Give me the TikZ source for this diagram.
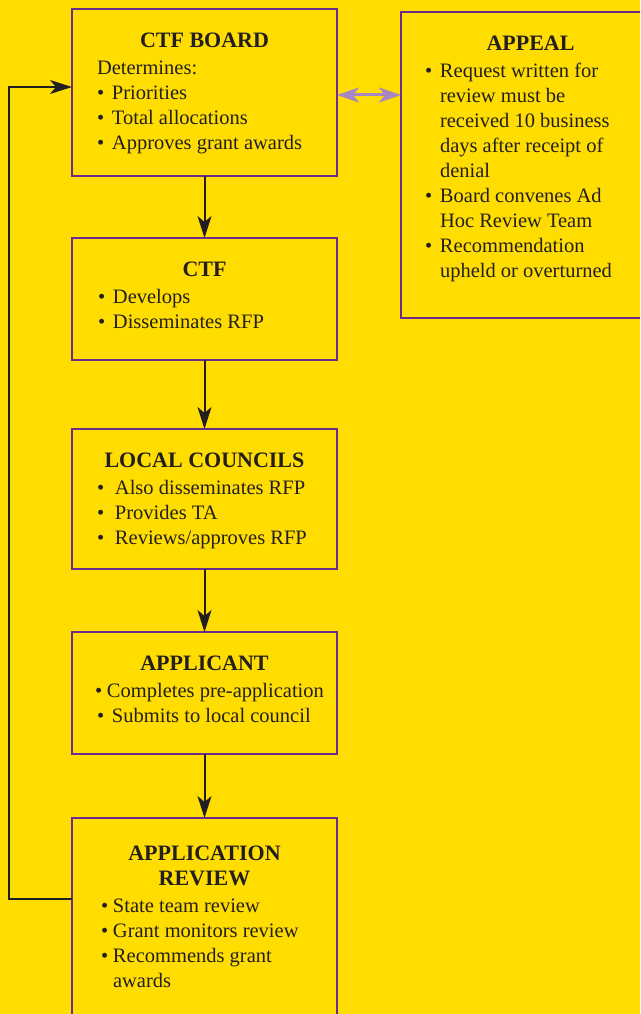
\documentclass[tikz,border=0pt]{standalone}
\usepackage{fontspec}
\setmainfont{Liberation Serif}
\usepackage{tikz}
\usetikzlibrary{arrows.meta,positioning}
\definecolor{ctfyellow}{RGB}{255,221,0}
\definecolor{boxpurple}{RGB}{108,44,140}
\definecolor{appealviolet}{RGB}{168,134,196}
\definecolor{inkdark}{RGB}{35,31,32}
\tikzstyle{stagebox}=[draw=boxpurple,line width=2pt,fill=ctfyellow,inner sep=0pt,outer sep=0pt,text=inkdark]
\tikzstyle{flow}=[draw=inkdark,line width=2pt,-{Stealth[length=22pt,width=14pt,inset=6pt]}]
\tikzstyle{appealflow}=[draw=appealviolet,line width=3pt,{Stealth[length=22pt,width=15pt,inset=6pt]}-{Stealth[length=22pt,width=15pt,inset=6pt]}]
\newcommand{\boxhead}[1]{{\centering\fontsize{22}{25}\selectfont\bfseries #1\par}\vspace{2pt}}
\newcommand{\bitem}[2][15pt]{\makebox[#1][l]{\textbullet}#2\par}
\newcommand{\stage}[5][24pt]{\begin{minipage}[t][#3][t]{#2}\fontsize{20.5}{25}\selectfont\leftskip=#4\relax\parindent=0pt\vspace*{#1}#5\end{minipage}}

\begin{document}
\begin{tikzpicture}[x=1pt,y=1pt,node distance=62pt]
\useasboundingbox (0,0) rectangle (640,-1014);
\fill[ctfyellow] (0,0) rectangle (640,-1014);
\clip (0,0) rectangle (640,-1014);
% main flow
\node[stagebox,anchor=north west] (board) at (72,-9) {\stage{265pt}{167pt}{25pt}{%
  \boxhead{CTF BOARD}
  Determines:\par
  \bitem{Priorities}
  \bitem{Total allocations}
  \bitem{Approves grant awards}}};
\node[stagebox,below=62pt of board] (ctf) {\stage{265pt}{122pt}{26pt}{%
  \boxhead{CTF}
  \bitem{Develops}
  \bitem{Disseminates RFP}}};
\node[stagebox,below=69pt of ctf] (local) {\stage{265pt}{140pt}{25pt}{%
  \boxhead{LOCAL COUNCILS}
  \bitem[18pt]{Also disseminates RFP}
  \bitem[18pt]{Provides TA}
  \bitem[18pt]{Reviews/approves RFP}}};
\node[stagebox,below=63pt of local] (applicant) {\stage{265pt}{122pt}{23pt}{%
  \boxhead{APPLICANT}
  \bitem[12pt]{Completes pre-application}
  \hspace*{2pt}\bitem[15pt]{Submits to local council}}};
\node[stagebox,below=64pt of applicant] (review) {\stage[28pt]{265pt}{230pt}{29pt}{%
  \boxhead{APPLICATION\\REVIEW}
  \bitem[12pt]{State team review}
  \bitem[12pt]{Grant monitors review}
  \bitem[12pt]{Recommends grant}
  \hspace*{12pt}awards\par}};
% appeal
\node[stagebox,right=64pt of board.north east,anchor=north west,yshift=-3pt] (appeal) {\stage{259pt}{306pt}{24pt}{%
  \boxhead{APPEAL}
  \bitem{Request written for}
  \hspace*{15pt}review must be\par
  \hspace*{15pt}received 10 business\par
  \hspace*{15pt}days after receipt of\par
  \hspace*{15pt}denial\par
  \bitem{Board convenes Ad}
  \hspace*{15pt}Hoc Review Team\par
  \bitem{Recommendation}
  \hspace*{15pt}upheld or overturned\par}};
% connectors
\draw[flow] (board) -- (ctf);
\draw[flow] (ctf) -- (local);
\draw[flow] (local) -- (applicant);
\draw[flow] (applicant) -- (review);
\coordinate (loopcorner) at ([xshift=-63pt,yshift=-81pt]review.north west);
\draw[flow] ([yshift=-81pt]review.north west) -- (loopcorner) |- ([yshift=-78pt]board.north west);
\draw[appealflow] ([yshift=-86pt]board.north east) -- ([yshift=-86pt]board.north east -| appeal.west);
\end{tikzpicture}
\end{document}
